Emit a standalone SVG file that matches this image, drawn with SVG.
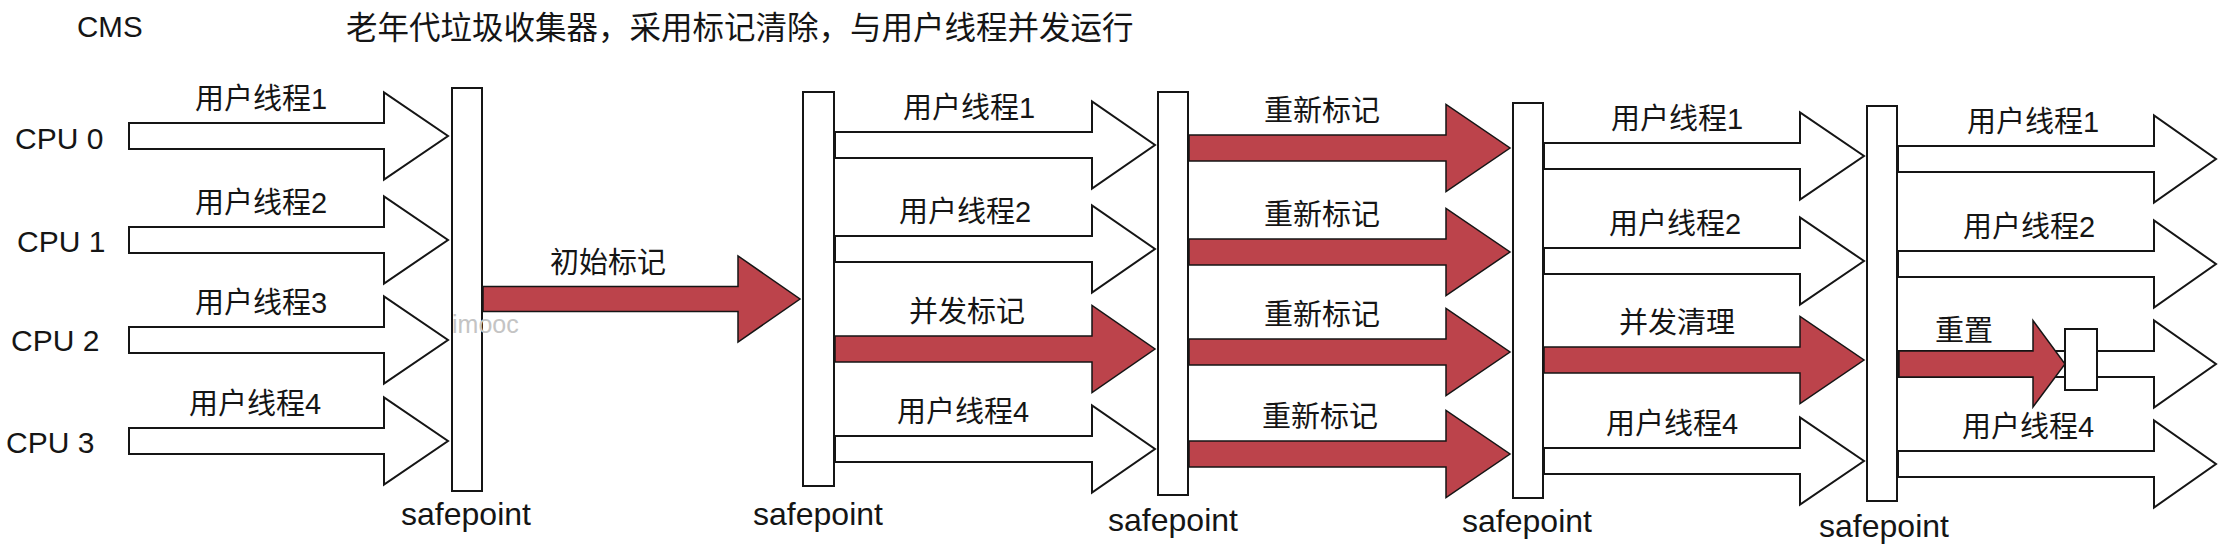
<svg xmlns="http://www.w3.org/2000/svg" width="2236" height="548" viewBox="0 0 2236 548">
<style>
.t{font-family:"Liberation Sans","Noto Sans CJK SC",sans-serif;fill:#151515}
.lbl{font-size:29px}
.cpu{font-size:30px}
.sp{font-size:32px;text-anchor:middle}
.title{font-family:"Noto Sans CJK SC",sans-serif;font-size:31.5px;fill:#151515}
.sprect{fill:#fff;stroke:#151515;stroke-width:2}
.wa{fill:#fff;stroke:#151515;stroke-width:2;stroke-linejoin:miter}
.ra{fill:#BC434B;stroke:#151515;stroke-width:1.5;stroke-linejoin:miter}
.wm{font-family:"Liberation Sans",sans-serif;font-size:25px;fill:#c4c4c4}
</style>
<rect width="2236" height="548" fill="#fff"/>

<g id="header">
<text class="t" x="77" y="37" style="font-size:29.5px">CMS</text>
<text class="title" x="346" y="39">老年代垃圾收集器，采用标记清除，与用户线程并发运行</text>
</g>

<g id="cpu-labels">
<text class="t cpu" x="15" y="149">CPU 0</text>
<text class="t cpu" x="17" y="252">CPU 1</text>
<text class="t cpu" x="11" y="351">CPU 2</text>
<text class="t cpu" x="6" y="453">CPU 3</text>
</g>

<g id="connectors">
<polygon class="wa" points="129,123 384,123 384,92.5 448,136 384,179.5 384,149 129,149"/>
<polygon class="wa" points="129,227 384,227 384,196.5 448,240 384,283.5 384,253 129,253"/>
<polygon class="wa" points="129,327 384,327 384,296.5 448,340 384,383.5 384,353 129,353"/>
<polygon class="wa" points="129,428 384,428 384,397.5 448,441 384,484.5 384,454 129,454"/>
<polygon class="ra" points="483,286.5 738,286.5 738,256 800,299 738,342 738,311.5 483,311.5"/>
<polygon class="wa" points="835,132 1092,132 1092,101.5 1155,145 1092,188.5 1092,158 835,158"/>
<polygon class="wa" points="835,236 1092,236 1092,205.5 1155,249 1092,292.5 1092,262 835,262"/>
<polygon class="ra" points="835,336 1092,336 1092,305.5 1155,349 1092,392.5 1092,362 835,362"/>
<polygon class="wa" points="835,436 1092,436 1092,405.5 1155,449 1092,492.5 1092,462 835,462"/>
<polygon class="ra" points="1189,135 1446,135 1446,104.5 1510,148 1446,191.5 1446,161 1189,161"/>
<polygon class="ra" points="1189,239 1446,239 1446,208.5 1510,252 1446,295.5 1446,265 1189,265"/>
<polygon class="ra" points="1189,339 1446,339 1446,308.5 1510,352 1446,395.5 1446,365 1189,365"/>
<polygon class="ra" points="1189,441 1446,441 1446,410.5 1510,454 1446,497.5 1446,467 1189,467"/>
<polygon class="wa" points="1544,143 1800,143 1800,112.5 1864,156 1800,199.5 1800,169 1544,169"/>
<polygon class="wa" points="1544,248 1800,248 1800,217.5 1864,261 1800,304.5 1800,274 1544,274"/>
<polygon class="ra" points="1544,347 1800,347 1800,316.5 1864,360 1800,403.5 1800,373 1544,373"/>
<polygon class="wa" points="1544,448 1800,448 1800,417.5 1864,461 1800,504.5 1800,474 1544,474"/>
<polygon class="wa" points="1898,146 2154,146 2154,115.5 2216,159 2154,202.5 2154,172 1898,172"/>
<polygon class="wa" points="1898,251 2154,251 2154,220.5 2216,264 2154,307.5 2154,277 1898,277"/>
<polygon class="wa" points="1898,351 2154,351 2154,320.5 2216,364 2154,407.5 2154,377 1898,377"/>
<polygon class="wa" points="1898,451 2154,451 2154,420.5 2216,464 2154,507.5 2154,477 1898,477"/>
<polygon class="ra" points="1899,351 2033,351 2033,320.5 2065,364 2033,407 2033,377 1899,377"/>
</g>

<g id="reset-box">
<rect class="sprect" x="2065" y="329" width="32" height="61"/>
</g>

<g id="safepoint1">
<rect class="sprect" x="452" y="88" width="30" height="403"/>
<text class="t sp" x="466" y="525">safepoint</text>
</g>
<g id="safepoint2">
<rect class="sprect" x="803" y="92" width="31" height="394"/>
<text class="t sp" x="818" y="525">safepoint</text>
</g>
<g id="safepoint3">
<rect class="sprect" x="1158" y="92" width="30" height="403"/>
<text class="t sp" x="1173" y="531">safepoint</text>
</g>
<g id="safepoint4">
<rect class="sprect" x="1513" y="103" width="30" height="395"/>
<text class="t sp" x="1527" y="532">safepoint</text>
</g>
<g id="safepoint5">
<rect class="sprect" x="1867" y="106" width="30" height="395"/>
<text class="t sp" x="1884" y="537">safepoint</text>
</g>

<g id="labels">
<text class="t lbl" x="195" y="109">用户线程1</text>
<text class="t lbl" x="195" y="213">用户线程2</text>
<text class="t lbl" x="195" y="313">用户线程3</text>
<text class="t lbl" x="189" y="414">用户线程4</text>
<text class="t lbl" x="550" y="273">初始标记</text>
<text class="t lbl" x="903" y="118">用户线程1</text>
<text class="t lbl" x="899" y="222">用户线程2</text>
<text class="t lbl" x="909" y="322">并发标记</text>
<text class="t lbl" x="897" y="422">用户线程4</text>
<text class="t lbl" x="1264" y="121">重新标记</text>
<text class="t lbl" x="1264" y="225">重新标记</text>
<text class="t lbl" x="1264" y="325">重新标记</text>
<text class="t lbl" x="1262" y="427">重新标记</text>
<text class="t lbl" x="1611" y="129">用户线程1</text>
<text class="t lbl" x="1609" y="234">用户线程2</text>
<text class="t lbl" x="1619" y="333">并发清理</text>
<text class="t lbl" x="1606" y="434">用户线程4</text>
<text class="t lbl" x="1967" y="132">用户线程1</text>
<text class="t lbl" x="1963" y="237">用户线程2</text>
<text class="t lbl" x="1935" y="341">重置</text>
<text class="t lbl" x="1962" y="437">用户线程4</text>
</g>

<text class="wm" x="452" y="333">imooc</text>
</svg>
